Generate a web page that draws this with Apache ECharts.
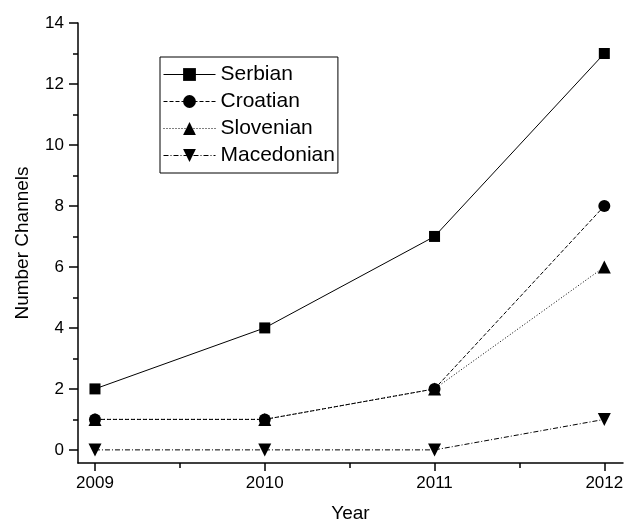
<!DOCTYPE html>
<html>
<head>
<meta charset="utf-8">
<script src="https://cdn.jsdelivr.net/npm/echarts@6/dist/echarts.min.js"></script>
<style>
  html, body { margin: 0; padding: 0; background: #fff; }
  #chart { width: 624px; height: 525px; }
</style>
</head>
<body>
<div id="chart"></div>
<script>
// Number of TV channels by language, 2009-2012
const years = [2009, 2010, 2011, 2012];
const serbian = [2, 4, 7, 13];
const croatian = [1, 1, 2, 8];
const slovenian = [1, 1, 2, 6];
const macedonian = [0, 0, 0, 1];

const yMajor = [0, 2, 4, 6, 8, 10, 12, 14];
const yMinor = [1, 3, 5, 7, 9, 11, 13];
const xMinor = [2009.5, 2010.5, 2011.5];

const FONT = "'Liberation Sans', Arial, sans-serif";
const X_MIN = 2008.9, X_MAX = 2012.11;
const Y_MIN = -0.43, Y_MAX = 14;

const pairs = vals => years.map((y, i) => [y, vals[i]]);

const chart = echarts.init(document.getElementById('chart'), null, { renderer: 'canvas' });

const baseSeries = (name, vals, symbol, size, lineType, extra) => Object.assign({
  name,
  type: 'line',
  data: pairs(vals),
  symbol,
  symbolSize: size,
  showSymbol: true,
  animation: false,
  itemStyle: { color: '#000' },
  lineStyle: { color: '#000', width: 1, type: lineType },
  emphasis: { disabled: true }
}, extra || {});

chart.setOption({
  animation: false,
  backgroundColor: '#fff',
  textStyle: { fontFamily: FONT, color: '#000' },
  grid: { left: 78, right: 1, top: 23, bottom: 62, containLabel: false, outerBoundsMode: 'none' },
  legend: {
    orient: 'vertical',
    left: 160,
    top: 57,
    padding: [7, 3, 7, 3],
    itemWidth: 52,
    itemHeight: 16,
    itemGap: 6,
    borderColor: '#000',
    borderWidth: 1,
    selectedMode: false,
    lineStyle: { width: 1 },
    textStyle: { fontFamily: FONT, fontSize: 21, color: '#000', lineHeight: 21 },
    data: ['Serbian', 'Croatian', 'Slovenian', 'Macedonian']
  },
  xAxis: [{
    type: 'value',
    min: X_MIN, max: X_MAX,
    name: 'Year',
    nameLocation: 'middle',
    nameGap: 41,
    nameTextStyle: { fontFamily: FONT, fontSize: 19, color: '#000' },
    axisLine: { show: true, onZero: false, lineStyle: { color: '#000', width: 1.5 } },
    axisTick: { show: true, inside: false, length: 8, customValues: years, lineStyle: { color: '#000', width: 1.5 } },
    axisLabel: { customValues: years, margin: 12, fontFamily: FONT, fontSize: 17, color: '#000', formatter: v => String(v) },
    splitLine: { show: false }
  }, {
    type: 'value',
    min: X_MIN, max: X_MAX,
    position: 'bottom',
    axisLine: { show: false, onZero: false },
    axisTick: { show: true, inside: false, length: 5, customValues: xMinor, lineStyle: { color: '#000', width: 1.5 } },
    axisLabel: { show: false },
    splitLine: { show: false }
  }],
  yAxis: [{
    type: 'value',
    min: Y_MIN, max: Y_MAX,
    name: 'Number Channels',
    nameLocation: 'middle',
    nameGap: 46,
    nameRotate: 90,
    nameTextStyle: { fontFamily: FONT, fontSize: 19, color: '#000' },
    axisLine: { show: true, onZero: false, lineStyle: { color: '#000', width: 1.5 } },
    axisTick: { show: true, inside: false, length: 9, customValues: yMajor, lineStyle: { color: '#000', width: 1.5 } },
    axisLabel: { customValues: yMajor, margin: 14, fontFamily: FONT, fontSize: 17, color: '#000' },
    splitLine: { show: false }
  }, {
    type: 'value',
    min: Y_MIN, max: Y_MAX,
    position: 'left',
    axisLine: { show: false, onZero: false },
    axisTick: { show: true, inside: false, length: 5, customValues: yMinor, lineStyle: { color: '#000', width: 1.5 } },
    axisLabel: { show: false },
    splitLine: { show: false }
  }],
  series: [
    baseSeries('Serbian', serbian, 'rect', 11, 'solid'),
    baseSeries('Croatian', croatian, 'circle', 12, [4, 2]),
    baseSeries('Slovenian', slovenian, 'triangle', 13, [1, 2]),
    baseSeries('Macedonian', macedonian, 'triangle', 13, [5, 2, 1, 2], { symbolRotate: 180 })
  ]
});
</script>
</body>
</html>
